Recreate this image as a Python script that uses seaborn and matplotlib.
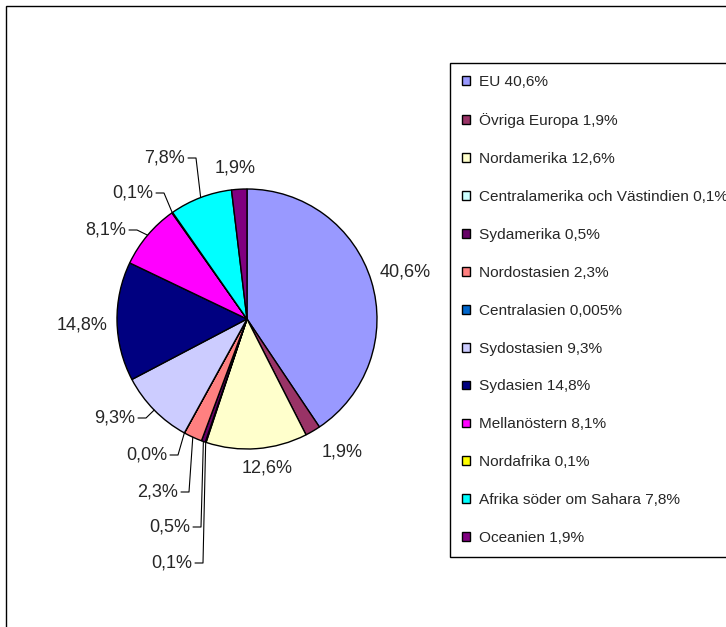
import matplotlib
matplotlib.use("Agg")
import matplotlib.pyplot as plt
from matplotlib.patches import Rectangle
import seaborn as sns
import numpy as np

# Data: share of total per region (%)
regions = ["EU", "Övriga Europa", "Nordamerika", "Centralamerika och Västindien",
           "Sydamerika", "Nordostasien", "Centralasien", "Sydostasien", "Sydasien",
           "Mellanöstern", "Nordafrika", "Afrika söder om Sahara", "Oceanien"]
shares = [40.6, 1.9, 12.6, 0.1, 0.5, 2.3, 0.005, 9.3, 14.8, 8.1, 0.1, 7.8, 1.9]
legend_values = ["40,6%", "1,9%", "12,6%", "0,1%", "0,5%", "2,3%", "0,005%",
                 "9,3%", "14,8%", "8,1%", "0,1%", "7,8%", "1,9%"]
colors = ["#9999FF", "#993366", "#FFFFCC", "#CCFFFF", "#660066", "#FF8080",
          "#0066CC", "#CCCCFF", "#000080", "#FF00FF", "#FFFF00", "#00FFFF", "#800080"]

# Label layout in pixel coords (x, y from top); leader=True means x is the text's right end
label_layout = [(405, 272, False), (342, 452, False), (267, 468, False),
                (192, 563, True), (190, 527, True), (178, 492, True),
                (167, 455, True), (135, 418, True), (82, 325, False),
                (126, 230, True), (153, 193, True), (185, 158, True),
                (235, 168, False)]

W, H = 726, 627
CX, CY, R = 247, 319, 130

sns.set_style("white")
plt.rcParams['font.family'] = ['Liberation Sans', 'DejaVu Sans']

fig = plt.figure(figsize=(W / 100, H / 100), dpi=100)
ax = fig.add_axes([0, 0, 1, 1])

wedges, _ = ax.pie(shares, colors=colors, startangle=90, counterclock=False,
                   center=(CX, H - CY), radius=R,
                   wedgeprops=dict(edgecolor="black", linewidth=1))
ax.set_xlim(0, W)
ax.set_ylim(0, H)
ax.set_aspect("equal")
ax.axis("off")

# pie labels with Excel-style leader lines
for w, val, (lx, ly, leader) in zip(wedges, shares, label_layout):
    txt = f"{val:.1f}".replace(".", ",") + "%"
    y = H - ly
    if leader:
        ax.text(lx, y, txt, ha="right", va="center", fontsize=13)
        mid = np.deg2rad((w.theta1 + w.theta2) / 2)
        px = CX + R * np.cos(mid)
        py = (H - CY) + R * np.sin(mid)
        x0 = lx + 3
        x1 = x0 + 8
        ax.plot([x0, x1, px], [y, y, py], color="black", lw=0.8)
    else:
        ax.text(lx, y, txt, ha="center", va="center", fontsize=13)

legend_labels = [f"{r} {v}" for r, v in zip(regions, legend_values)]
leg = ax.legend(handles=wedges, labels=legend_labels, loc="upper left",
                bbox_to_anchor=(450 / W, 1 - 63 / H), bbox_transform=fig.transFigure,
                frameon=True, fancybox=False, edgecolor="black", framealpha=1,
                handlelength=0.5, handleheight=0.5, handletextpad=0.55,
                labelspacing=1.55, borderpad=0.8, fontsize=11.1, borderaxespad=0)
leg.get_frame().set_linewidth(1)

# chart area border (clipped on right and bottom)
fig.add_artist(Rectangle((6 / W, -0.1), 2, 1.1 - 6 / H, transform=fig.transFigure,
                         fill=False, edgecolor="black", linewidth=1))

fig.savefig("out.png", dpi=100)
